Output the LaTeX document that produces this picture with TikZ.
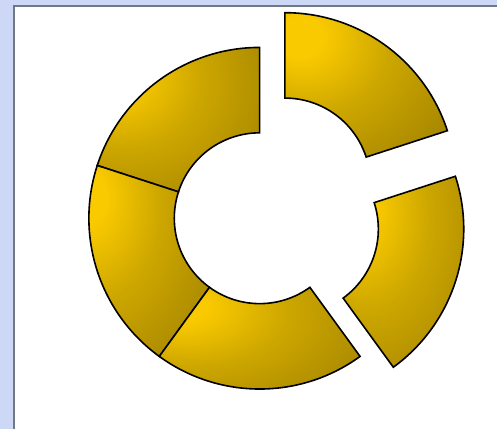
\documentclass[tikz,border=0pt]{standalone}
\usepackage{xcolor}
\definecolor{bgblue}{RGB}{204,216,246}
\definecolor{pgray}{RGB}{112,120,132}
\definecolor{goldhi}{RGB}{250,202,0}
\definecolor{goldmd}{RGB}{204,166,0}
\definecolor{golddk}{RGB}{168,136,0}
\usepackage{tikz}
\usetikzlibrary{calc}
\pgfdeclareradialshading{goldseg}{\pgfpoint{-22bp}{18bp}}{%
  color(0bp)=(goldhi); color(7bp)=(goldhi); color(24bp)=(goldmd);
  color(44bp)=(golddk); color(100bp)=(golddk)}

\begin{document}
\begin{tikzpicture}[
  x=1pt,y=1pt,
  panel/.style={fill=white,draw=none},
  rim/.style={draw=pgray,line width=1.2pt},
  seg/.style={shading=goldseg,draw=black,line width=1.6pt,line join=miter}
]
  % === Background ===
  \fill[bgblue] (0,0) rectangle (498,430);
  \fill[panel] (14,0) rectangle (498,424);
  \draw[rim] (14,0) -- (14,424) -- (498,424);

  % === Donut ring (outer 171, inner 85.5) ===
  \begin{scope}[shift={(260,211.5)}]
    \foreach \sa/\ea/\off in {90/162/0, 162/234/0, 234/306/0, 306/378/35, 18/90/43} {
      \pgfmathsetmacro\mid{(\sa+\ea)/2}
      \begin{scope}[shift={(\mid:\off)}]
        \path[seg] (\sa:171) arc[start angle=\sa, end angle=\ea, radius=171]
          -- (\ea:85.5) arc[start angle=\ea, end angle=\sa, radius=85.5] -- cycle;
      \end{scope}
    }
  \end{scope}
  \useasboundingbox (0,0) rectangle (498,430);
\end{tikzpicture}
\end{document}
